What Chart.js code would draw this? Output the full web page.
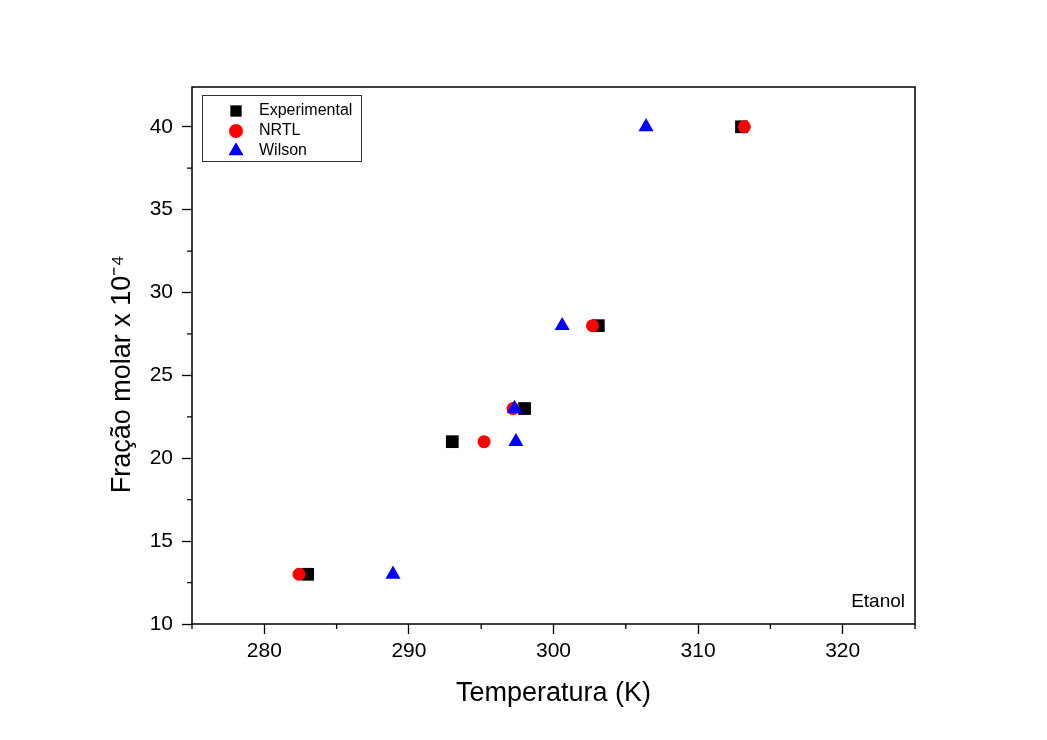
<!DOCTYPE html>
<html>
<head>
<meta charset="utf-8">
<script src="https://cdn.jsdelivr.net/npm/chart.js@4/dist/chart.umd.min.js"></script>
<style>
  html, body { margin: 0; padding: 0; background: #fff; }
  #wrap { width: 1047px; height: 740px; position: relative; }
</style>
</head>
<body>
<div id="wrap"><canvas id="scatter" width="1047" height="740"></canvas></div>
<script>
// y values (fração molar x 10^-4)
const fracao = [13, 21, 23, 28, 40];
// temperatures (K)
const tempExperimental = [283.0, 293.0, 298.0, 303.1, 313.0];
const tempNRTL = [282.4, 295.2, 297.2, 302.7, 313.2];
const tempWilson = [288.9, 297.4, 297.3, 300.6, 306.4];

const xMajor = [280, 290, 300, 310, 320];
const xMinor = [275, 285, 295, 305, 315, 325];
const yMajor = [10, 15, 20, 25, 30, 35, 40];
const yMinor = [12.5, 17.5, 22.5, 27.5, 32.5, 37.5, 42.5];

const toPoints = (xs) => xs.map((x, i) => ({ x: x, y: fracao[i] }));

const series = [
  { label: "Experimental", color: "#000000", style: "rect", radius: 9, legendR: 8, xs: tempExperimental },
  { label: "NRTL", color: "#ff0000", style: "circle", radius: 6.5, legendR: 7, xs: tempNRTL },
  { label: "Wilson", color: "#0000ff", style: "triangle", radius: 8.7, legendR: 8.7, xs: tempWilson },
];

const font = "'Liberation Sans', Arial, sans-serif";

// y title sits a bit below the middle of the axis in the original
const yTitle = ["Fração molar x 10⁻⁴", "Fração molar x 10⁻⁴     "];

// frame, minor ticks, legend box and the "Etanol" note
const extras = {
  id: "extras",
  afterDraw(chart) {
    const ctx = chart.ctx;
    const a = chart.chartArea;
    const xs = chart.scales.x, ys = chart.scales.y;
    ctx.save();
    ctx.strokeStyle = "#000";
    ctx.lineWidth = 1.5;
    ctx.strokeRect(a.left, a.top, a.right - a.left, a.bottom - a.top);

    ctx.lineWidth = 1.3;
    ctx.beginPath();
    xMinor.forEach(v => {
      const px = xs.getPixelForValue(v);
      ctx.moveTo(px, a.bottom); ctx.lineTo(px, a.bottom + 5);
    });
    yMinor.forEach(v => {
      const py = ys.getPixelForValue(v);
      if (py < a.top) return;
      ctx.moveTo(a.left, py); ctx.lineTo(a.left - 5, py);
    });
    ctx.stroke();

    // legend
    ctx.lineWidth = 1;
    ctx.strokeStyle = "#333";
    ctx.fillStyle = "#fff";
    ctx.fillRect(202, 95, 159, 66);
    ctx.strokeRect(202.5, 95.5, 159, 66);
    ctx.font = "16px " + font;
    ctx.textBaseline = "middle";
    ctx.textAlign = "left";
    series.forEach((s, i) => {
      const y = 111 + i * 20;
      ctx.fillStyle = s.color;
      Chart.helpers.drawPoint(ctx, {
        pointStyle: s.style, radius: s.legendR, rotation: 0, borderWidth: 0
      }, 236, y);
      ctx.fillStyle = "#000";
      ctx.fillText(s.label, 259, y);
    });

    ctx.font = "19px " + font;
    ctx.textAlign = "right";
    ctx.fillStyle = "#000";
    ctx.fillText("Etanol", 905, 602);
    ctx.restore();
  }
};

new Chart(document.getElementById("scatter"), {
  type: "scatter",
  data: {
    datasets: series.map((s, i) => ({
      label: s.label,
      data: toPoints(s.xs),
      order: series.length - i,
      pointStyle: s.style,
      pointRadius: s.radius,
      pointHoverRadius: s.radius,
      backgroundColor: s.color,
      borderColor: s.color,
      borderWidth: 0,
    })),
  },
  options: {
    responsive: false,
    animation: false,
    events: [],
    layout: { padding: { left: 102, right: 132, top: 87, bottom: 26 } },
    scales: {
      x: {
        type: "linear",
        min: 275,
        max: 325,
        afterBuildTicks: (scale) => { scale.ticks = xMajor.map(v => ({ value: v })); },
        afterFit: (scale) => { scale.height = 90; },
        grid: { drawOnChartArea: false, tickLength: 10, tickColor: "#000", tickWidth: 1.3 },
        border: { display: false },
        ticks: { color: "#000", font: { family: font, size: 21 }, padding: 5 },
        title: { display: true, text: "Temperatura (K)", color: "#000", font: { family: font, size: 27 } },
      },
      y: {
        type: "linear",
        min: 10,
        max: 42.4,
        afterBuildTicks: (scale) => { scale.ticks = yMajor.map(v => ({ value: v })); },
        afterFit: (scale) => { scale.width = 90; },
        grid: { drawOnChartArea: false, tickLength: 10, tickColor: "#000", tickWidth: 1.3 },
        border: { display: false },
        ticks: { color: "#000", font: { family: font, size: 21 }, padding: 9 },
        title: { display: true, text: yTitle[1], color: "#000", font: { family: font, size: 27 } },
      },
    },
    plugins: {
      legend: { display: false },
      tooltip: { enabled: false },
    },
  },
  plugins: [extras],
});
</script>
</body>
</html>
